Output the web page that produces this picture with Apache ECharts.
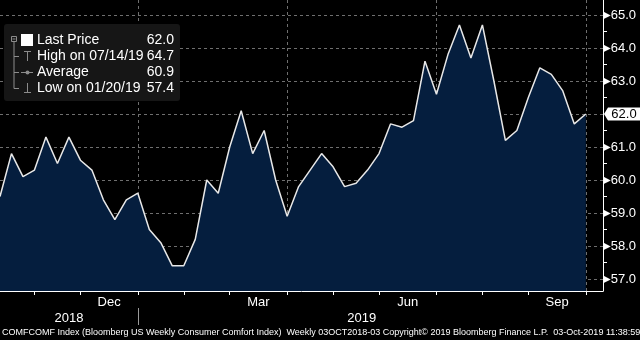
<!DOCTYPE html>
<html>
<head>
<meta charset="utf-8">
<script src="https://cdn.jsdelivr.net/npm/echarts@6/dist/echarts.min.js"></script>
<style>
html,body{margin:0;padding:0;background:#000;}
#chart{width:640px;height:340px;}
</style>
</head>
<body>
<div id="chart"></div>
<script>
// ---- data ----
const weeks = [
  '2018-10-07','2018-10-14','2018-10-21','2018-10-28','2018-11-04','2018-11-11','2018-11-18','2018-11-25',
  '2018-12-02','2018-12-09','2018-12-16','2018-12-23','2018-12-30','2019-01-06','2019-01-13','2019-01-20',
  '2019-01-27','2019-02-03','2019-02-10','2019-02-17','2019-02-24','2019-03-03','2019-03-10','2019-03-17',
  '2019-03-24','2019-03-31','2019-04-07','2019-04-14','2019-04-21','2019-04-28','2019-05-05','2019-05-12',
  '2019-05-19','2019-05-26','2019-06-02','2019-06-09','2019-06-16','2019-06-23','2019-06-30','2019-07-07',
  '2019-07-14','2019-07-21','2019-07-28','2019-08-04','2019-08-11','2019-08-18','2019-08-25','2019-09-01',
  '2019-09-08','2019-09-15','2019-09-22','2019-09-29'
];
const values = [
  59.5, 60.8, 60.1, 60.3, 61.3, 60.5, 61.3, 60.6, 60.3, 59.4,
  58.8, 59.4, 59.6, 58.5, 58.1, 57.4, 57.4, 58.2, 60.0, 59.6,
  61.0, 62.1, 60.8, 61.5, 60.0, 58.9, 59.8, 60.3, 60.8, 60.4,
  59.8, 59.9, 60.3, 60.8, 61.7, 61.6, 61.8, 63.6, 62.6, 63.8,
  64.7, 63.7, 64.7, 63.0, 61.2, 61.5, 62.5, 63.4, 63.2, 62.7,
  61.7, 62.0
];
// month tick marks (last weekly observation of each month)
const monthEnds = ['2018-10-28','2018-11-25','2018-12-30','2019-01-27','2019-02-24','2019-03-31',
                   '2019-04-28','2019-05-26','2019-06-30','2019-07-28','2019-08-25','2019-09-29'];
const quarterEnds = ['2018-12-30','2019-03-31','2019-06-30','2019-09-29'];
const monthLabels = ['Dec','Mar','Jun','Sep'];
const yearLabels = ['2018','2019'];
const yearBreaks = ['2018-12-30'];
const yTicks = [57,58,59,60,61,62,63,64,65];
const yMinorTicks = [57.5,58.5,59.5,60.5,61.5,62.5,63.5,64.5];
const legendNames = ['Last Price','High on','Average','Low on'];
const footerText = 'COMFCOMF Index (Bloomberg US Weekly Consumer Comfort Index)  Weekly 03OCT2018-03 Copyright\u00A9 2019 Bloomberg Finance L.P.  03-Oct-2019 11:38:59';

// ---- helpers ----
const DAY = 86400000;
function ts(s){ const p = s.split('-').map(Number); return Date.UTC(p[0], p[1]-1, p[2]); }
function mmddyy(s){ const p = s.split('-'); return p[1] + '/' + p[2] + '/' + p[0].slice(2); }

const seriesData = weeks.map((w,i) => [ts(w), values[i]]);
const xMin = ts(weeks[0]);
const xMax = ts(weeks[weeks.length-1]) + 1.5*7*DAY;
const yMin = 57 - 12/33;
const yMax = 65 + 15/33;

// stats
const last = values[values.length-1];
let hiI = 0, loI = 0, sum = 0;
values.forEach((v,i) => { if (v > values[hiI]) hiI = i; if (v < values[loI]) loI = i; sum += v; });
const avg = sum / values.length;

// month label positions: centred in the month that ends each quarter
const monthLabelPos = quarterEnds.map(q => { const k = monthEnds.indexOf(q); return (ts(monthEnds[k-1]) + ts(q)) / 2; });
// year label positions: centred over each year's span of data
const yearBounds = [weeks[0]].concat(yearBreaks, [weeks[weeks.length-1]]);
const yearLabelPos = yearLabels.map((y,i) => (ts(yearBounds[i]) + ts(yearBounds[i+1])) / 2);
function nearestLabel(v, pos, labels){ let b = 0; pos.forEach((p,i)=>{ if (Math.abs(p-v) < Math.abs(pos[b]-v)) b = i; }); return labels[b]; }

const chart = echarts.init(document.getElementById('chart'), null, {renderer:'canvas'});
const FONT = 'Liberation Sans';
const GRID = '#6f6f6f';
const TXT = '#ffffff';
const ICON = '#8c8c8c';

const legendRows = [
  {name: legendNames[0], val: last},
  {name: legendNames[1] + ' ' + mmddyy(weeks[hiI]), val: values[hiI]},
  {name: legendNames[2], val: avg},
  {name: legendNames[3] + ' ' + mmddyy(weeks[loI]), val: values[loI]}
];
const rowY = [40.5, 56.5, 72.5, 88.5];
const graphics = [
  {type:'rect', z:100, shape:{x:4, y:24, width:176, height:77, r:3}, style:{fill:'#161616'}},
  // tree
  {type:'rect', z:101, shape:{x:11.5, y:36.5, width:5, height:5}, style:{fill:'none', stroke:ICON, lineWidth:1}},
  {type:'line', z:101, shape:{x1:12.5, y1:39, x2:15.5, y2:39}, style:{stroke:ICON, lineWidth:1}},
  {type:'line', z:101, shape:{x1:14, y1:41.5, x2:14, y2:88.5}, style:{stroke:ICON, lineWidth:1}},
  {type:'line', z:101, shape:{x1:14, y1:56.5, x2:19, y2:56.5}, style:{stroke:ICON, lineWidth:1}},
  {type:'line', z:101, shape:{x1:14, y1:72.5, x2:19, y2:72.5}, style:{stroke:ICON, lineWidth:1}},
  {type:'line', z:101, shape:{x1:14, y1:88.5, x2:19, y2:88.5}, style:{stroke:ICON, lineWidth:1}},
  // icons
  {type:'rect', z:101, shape:{x:21, y:34, width:12, height:12}, style:{fill:'#ffffff'}},
  {type:'line', z:101, shape:{x1:24, y1:51.5, x2:31, y2:51.5}, style:{stroke:ICON, lineWidth:1}},
  {type:'line', z:101, shape:{x1:27.5, y1:51.5, x2:27.5, y2:61}, style:{stroke:ICON, lineWidth:1}},
  {type:'line', z:101, shape:{x1:21, y1:72.5, x2:33, y2:72.5}, style:{stroke:ICON, lineWidth:1}},
  {type:'circle', z:102, shape:{cx:27.5, cy:72.5, r:2}, style:{fill:ICON}},
  {type:'line', z:101, shape:{x1:27.5, y1:83, x2:27.5, y2:92.5}, style:{stroke:ICON, lineWidth:1}},
  {type:'line', z:101, shape:{x1:24, y1:92.5, x2:31, y2:92.5}, style:{stroke:ICON, lineWidth:1}}
];
legendRows.forEach((r,i) => {
  graphics.push({type:'text', z:102, x:37, y:rowY[i], style:{text:r.name, fill:TXT, font:'14px "' + FONT + '"', verticalAlign:'middle', align:'left'}});
  graphics.push({type:'text', z:102, x:174, y:rowY[i], style:{text:r.val.toFixed(1), fill:TXT, font:'14px "' + FONT + '"', verticalAlign:'middle', align:'right'}});
});
graphics.push({type:'text', z:102, x:2, y:333, style:{text:footerText, fill:'#ffffff', font:'9px "' + FONT + '"', verticalAlign:'middle', align:'left'}});

const option = {
  backgroundColor:'#000000',
  animation:false,
  grid:{left:0, right:37, top:0, bottom:49, containLabel:false},
  xAxis:[
    {type:'value', min:xMin, max:xMax, position:'bottom', scale:true,
     axisLine:{show:true, onZero:false, lineStyle:{color:'#ffffff', width:1}},
     axisTick:{show:true, customValues:monthEnds.map(ts), length:4, lineStyle:{color:'#ffffff'}},
     axisLabel:{show:true, customValues:monthLabelPos, formatter:v => nearestLabel(v, monthLabelPos, monthLabels),
                color:TXT, fontSize:13, fontFamily:FONT, margin:5, hideOverlap:false},
     splitLine:{show:false}},
    {type:'value', min:xMin, max:xMax, position:'bottom', scale:true,
     axisLine:{show:false}, axisTick:{show:false, customValues:quarterEnds.map(ts)},
     axisLabel:{show:false},
     splitLine:{show:true, lineStyle:{color:GRID, type:[3,3], width:1}}},
    {type:'value', min:xMin, max:xMax, position:'bottom', offset:17, scale:true,
     axisLine:{show:false},
     axisTick:{show:true, customValues:yearBreaks.map(ts), length:17, lineStyle:{color:'#9a9a9a'}},
     axisLabel:{show:true, customValues:yearLabelPos, formatter:v => nearestLabel(v, yearLabelPos, yearLabels),
                color:TXT, fontSize:13, fontFamily:FONT, margin:4, hideOverlap:false},
     splitLine:{show:false}}
  ],
  yAxis:[
    {type:'value', position:'right', min:yMin, max:yMax,
     axisLine:{show:true, lineStyle:{color:'#ffffff', width:1}},
     axisTick:{show:true, customValues:yMinorTicks, length:4, lineStyle:{color:'#ffffff'}},
     axisLabel:{show:true, customValues:yTicks.filter(v => Math.abs(v - last) >= 0.5),
                formatter:v => '{t|\u25B6}' + v.toFixed(1), margin:0,
                color:TXT, fontSize:13, fontFamily:FONT,
                rich:{t:{fontSize:10, fontFamily:'DejaVu Sans', color:'#ffffff'}}},
     splitLine:{show:false}},
    {type:'value', position:'right', min:yMin, max:yMax,
     axisLine:{show:false}, axisTick:{show:false, customValues:yTicks},
     axisLabel:{show:false},
     splitLine:{show:true, lineStyle:{color:GRID, type:[3,3], width:1}}}
  ],
  series:[{
    type:'line', xAxisIndex:0, yAxisIndex:0, data:seriesData,
    symbol:'none', smooth:false,
    lineStyle:{color:'#e8e8e8', width:1.5},
    areaStyle:{color:'#051e3e', opacity:1, origin:'start'},
    z:3,
    markPoint:{
      silent:true,
      data:[{coord:[xMax, last], value:last}],
      symbol:'path://M0,6.5L4,0L36,0L36,13L4,13Z',
      symbolSize:[36,13], symbolOffset:[19,0],
      itemStyle:{color:'#ffffff'},
      label:{show:true, position:'inside', offset:[2,0], formatter:p => p.value.toFixed(1),
             color:'#000000', fontSize:13, fontFamily:FONT}
    }
  }],
  graphic:graphics
};
chart.setOption(option);
</script>
</body>
</html>
